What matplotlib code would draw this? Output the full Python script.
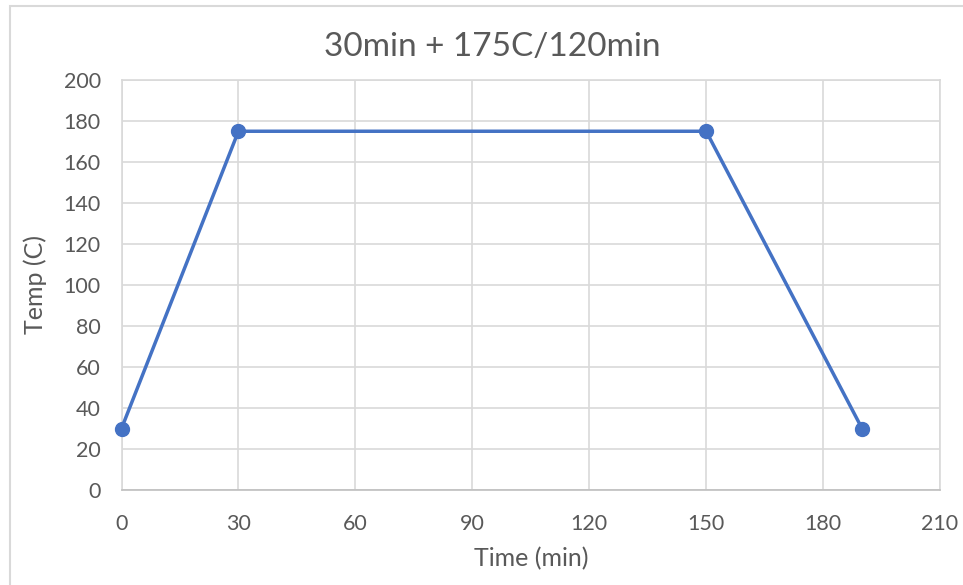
import matplotlib
matplotlib.use("Agg")
import matplotlib.pyplot as plt
from matplotlib.patches import Rectangle

time_min = [0, 30, 150, 190]
temp_c = [30, 175, 175, 30]
x_ticks = [0, 30, 60, 90, 120, 150, 180, 210]
y_ticks = list(range(0, 201, 20))
title = "30min + 175C/120min"

plt.rcParams['font.family'] = ['Lato', 'DejaVu Sans']
txt = '#595959'
grid = '#d9d9d9'
blue = '#4472C4'

fig = plt.figure(figsize=(9.63, 5.85), dpi=100)
fig.patches.append(Rectangle((10/963, -0.1), 1.2, (585-6)/585 + 0.1, transform=fig.transFigure,
                             fill=False, edgecolor=grid, linewidth=1.5))
ax = fig.add_axes([121.5/963, (585-490)/585, (940-121.5)/963, (490-80)/585])
ax.plot(time_min, temp_c, color=blue, linewidth=2.5, marker='o', markersize=10, clip_on=False, zorder=3)
ax.set_xlim(0, 210)
ax.set_ylim(0, 200)
ax.set_xticks(x_ticks)
ax.set_yticks(y_ticks)
ax.grid(True, color=grid, linewidth=1.2)
ax.set_axisbelow(True)
for s in ax.spines.values():
    s.set_color(grid)
    s.set_linewidth(1.2)
ax.spines['bottom'].set_color('#bfbfbf')
ax.tick_params(length=0, labelsize=15.5, colors=txt)
ax.tick_params(axis='y', pad=15)
ax.tick_params(axis='x', pad=17)
ax.set_xlabel('Time (min)', fontsize=18, color=txt, labelpad=10)
ax.set_ylabel('Temp (C)', fontsize=18, color=txt, labelpad=12)
fig.text(492/963, 1 - 47/585, title, fontsize=24, color=txt, ha='center', va='center')
fig.savefig('out.png', dpi=100)
